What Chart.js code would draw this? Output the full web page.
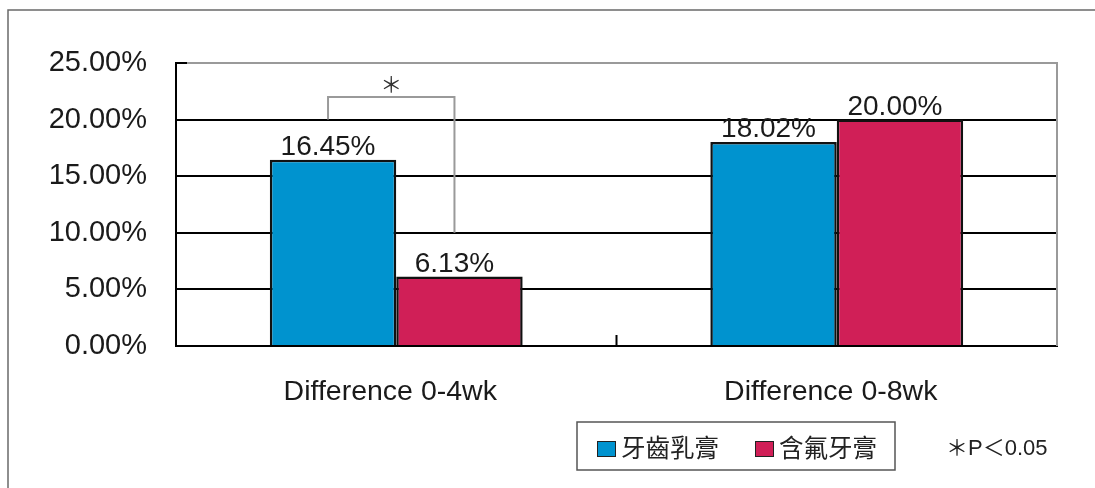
<!DOCTYPE html>
<html>
<head>
<meta charset="utf-8">
<script src="https://cdn.jsdelivr.net/npm/chart.js@4"></script>
<style>
  body { margin: 0; background: #fff; }
  #wrap { position: relative; width: 1095px; height: 488px; }
</style>
</head>
<body>
<div id="wrap"><canvas id="myChart" width="1095" height="488"></canvas></div>
<script>
// data
var categories = ['Difference 0-4wk', 'Difference 0-8wk'];
var seriesNames = ['牙齒乳膏', '含氟牙膏'];
var toothMousse = [16.45, 18.02];
var fluoridePaste = [6.13, 20.00];
var yTicks = [0, 5, 10, 15, 20, 25];
var pNote = '＊P＜0.05';

var blue = '#0093CF';
var red = '#D01F57';
var latin = '"Liberation Sans", Arial, "Noto Sans CJK TC", sans-serif';
var cjk = '"Noto Sans CJK TC", "Noto Sans CJK JP", sans-serif';

function pct(v){
    return v.toFixed(2) + '%';
}

// frame, right/top plot border, middle tick
var framePlugin = {
    id: 'framePlugin',
    afterDraw: function(chart){
        var ctx = chart.ctx;
        var a = chart.chartArea;
        ctx.save();
        ctx.strokeStyle = '#6a6a6a';
        ctx.lineWidth = 1.5;
        ctx.beginPath();
        ctx.moveTo(8, 488);
        ctx.lineTo(8, 10);
        ctx.lineTo(1095, 10);
        ctx.stroke();

        ctx.strokeStyle = '#9a9a9a';
        ctx.lineWidth = 2;
        ctx.beginPath();
        ctx.moveTo(a.left + 11, a.top);
        ctx.lineTo(a.right, a.top);
        ctx.lineTo(a.right, a.bottom);
        ctx.stroke();

        ctx.strokeStyle = '#000';
        ctx.beginPath();
        ctx.moveTo(a.left, a.top);
        ctx.lineTo(a.left + 11, a.top);
        ctx.moveTo((a.left + a.right) / 2, a.bottom);
        ctx.lineTo((a.left + a.right) / 2, a.bottom - 11);
        ctx.stroke();
        ctx.restore();
    }
};

// value labels + significance bracket
var labelPlugin = {
    id: 'labelPlugin',
    afterDatasetsDraw: function(chart){
        var ctx = chart.ctx;
        var y = chart.scales.y;
        ctx.save();
        ctx.font = '28px ' + latin;
        ctx.fillStyle = '#1a1a1a';
        ctx.textAlign = 'center';
        ctx.textBaseline = 'alphabetic';
        chart.data.datasets.forEach(function(ds, i){
            var meta = chart.getDatasetMeta(i);
            meta.data.forEach(function(bar, j){
                ctx.fillText(pct(ds.data[j]), bar.x - 5, bar.y - 5);
            });
        });

        var b1 = chart.getDatasetMeta(0).data[0];
        var b2 = chart.getDatasetMeta(1).data[0];
        var x1 = b1.x - 5, x2 = b2.x - 5;
        var top = y.getPixelForValue(22);
        ctx.strokeStyle = '#9a9a9a';
        ctx.lineWidth = 2;
        ctx.beginPath();
        ctx.moveTo(x1, y.getPixelForValue(20));
        ctx.lineTo(x1, top);
        ctx.lineTo(x2, top);
        ctx.lineTo(x2, y.getPixelForValue(10));
        ctx.stroke();

        ctx.font = '22px ' + cjk;
        ctx.fillStyle = '#333';
        ctx.textBaseline = 'middle';
        ctx.fillText('＊', (x1 + x2) / 2, top - 13);
        ctx.restore();
    }
};

// boxed legend and p-value note
var legendPlugin = {
    id: 'legendPlugin',
    afterDraw: function(chart){
        var ctx = chart.ctx;
        var colors = [blue, red];
        var sx = [597, 755];
        ctx.save();
        ctx.strokeStyle = '#555';
        ctx.lineWidth = 1.5;
        ctx.strokeRect(577, 422, 318, 48);

        ctx.textBaseline = 'middle';
        ctx.textAlign = 'left';
        for (var i = 0; i < seriesNames.length; i++){
            ctx.fillStyle = colors[i];
            ctx.fillRect(sx[i], 441, 19, 16);
            ctx.strokeStyle = '#222';
            ctx.lineWidth = 1;
            ctx.strokeRect(sx[i] + 0.5, 441.5, 18, 15);
            ctx.fillStyle = '#222';
            ctx.font = '24.5px ' + cjk;
            ctx.fillText(seriesNames[i], sx[i] + 24, 448);
        }
        ctx.font = '22px ' + latin;
        ctx.fillText(pNote, 946, 449);
        ctx.restore();
    }
};

const ctx = document.getElementById('myChart').getContext('2d');
const myChart = new Chart(ctx, {
    type: 'bar',
    data: {
        labels: categories,
        datasets: [{
            label: seriesNames[0],
            data: toothMousse,
            backgroundColor: blue,
            borderColor: '#111',
            borderWidth: 2.5
        },{
            label: seriesNames[1],
            data: fluoridePaste,
            backgroundColor: red,
            borderColor: '#111',
            borderWidth: 2.5
        }]
    },
    options: {
        responsive: false,
        animation: false,
        layout: { padding: { top: 63, right: 38, left: 0, bottom: 0 } },
        datasets: { bar: { categoryPercentage: 0.574, barPercentage: 1 } },
        plugins: {
            legend: { display: false },
            tooltip: { enabled: false }
        },
        scales: {
            x: {
                grid: { display: false },
                border: { display: true, color: '#000', width: 2 },
                ticks: {
                    color: '#1a1a1a',
                    padding: 21,
                    labelOffset: -6,
                    maxRotation: 0,
                    font: { family: latin, size: 28.5 }
                },
                afterFit: function(scale){ scale.height = 142; }
            },
            y: {
                min: 0,
                max: 25,
                afterBuildTicks: function(scale){
                    scale.ticks = yTicks.map(function(v){ return { value: v }; });
                },
                grid: {
                    color: function(c){ return c.tick && c.tick.value === 25 ? 'rgba(0,0,0,0)' : '#000'; },
                    lineWidth: 2,
                    drawTicks: false
                },
                border: { display: true, color: '#000', width: 2 },
                ticks: {
                    color: '#1a1a1a',
                    padding: 29,
                    font: { family: latin, size: 29 },
                    callback: function(v){ return pct(v); }
                },
                afterFit: function(scale){ scale.width = 176; }
            }
        }
    },
    plugins: [framePlugin, labelPlugin, legendPlugin]
});
</script>
</body>
</html>
